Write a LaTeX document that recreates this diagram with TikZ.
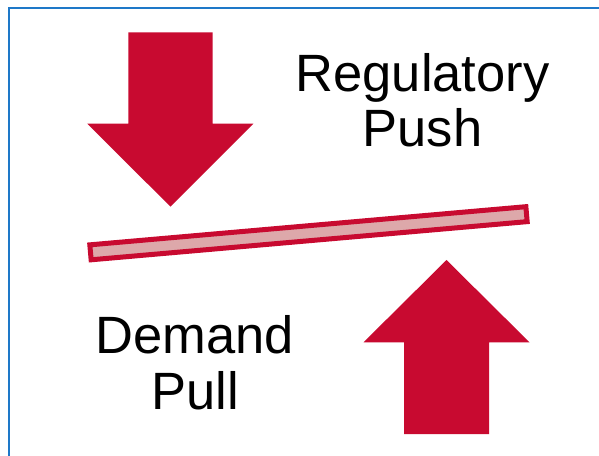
\documentclass[tikz,border=0pt]{standalone}
\usepackage{fontspec}
\setmainfont{Liberation Sans}
\definecolor{arrowred}{RGB}{200,10,48}
\definecolor{barpink}{RGB}{221,168,170}
\definecolor{frameblue}{RGB}{30,120,200}
\tikzset{
  bigarrow/.style={fill=arrowred, draw=none},
  lbl/.style={inner sep=0pt, anchor=base, font=\fontsize{52.5}{56}\selectfont},
  barstyle/.style={draw=arrowred, fill=barpink, line width=5pt}
}
\begin{document}
\begin{tikzpicture}[x=1pt,y=1pt]
\useasboundingbox (0,0) rectangle (599,455);
\clip (0,0) rectangle (599,455);
\fill[white] (0,0) rectangle (599,455);
% frame
\draw[frameblue, line width=2pt] (9,-10) -- (9,447.3) -- (620,447.3);
% down arrow
\fill[bigarrow] (128.3,422.7) -- (212.7,422.7) -- (212.7,331.3) -- (253.3,331.3)
  -- (170.5,248.3) -- (87.3,331.3) -- (128.3,331.3) -- cycle;
% up arrow
\fill[bigarrow] (404,21) -- (489,21) -- (489,112.7) -- (529.5,112.7)
  -- (446.5,195) -- (363.5,112.7) -- (404,112.7) -- cycle;
% bar
\node (bar) [barstyle, rotate=5, minimum width=437.7pt, minimum height=15pt, inner sep=0pt]
  at (308.5,221.75) {};
% labels
\node (reg) [lbl] at (422.5,363.3) {Regulatory};
\node (push) [lbl] at (422.5,308) {Push};
\node (dem) [lbl] at (195,102) {Demand};
\node (pull) [lbl] at (195,46) {Pull};
\end{tikzpicture}
\end{document}
